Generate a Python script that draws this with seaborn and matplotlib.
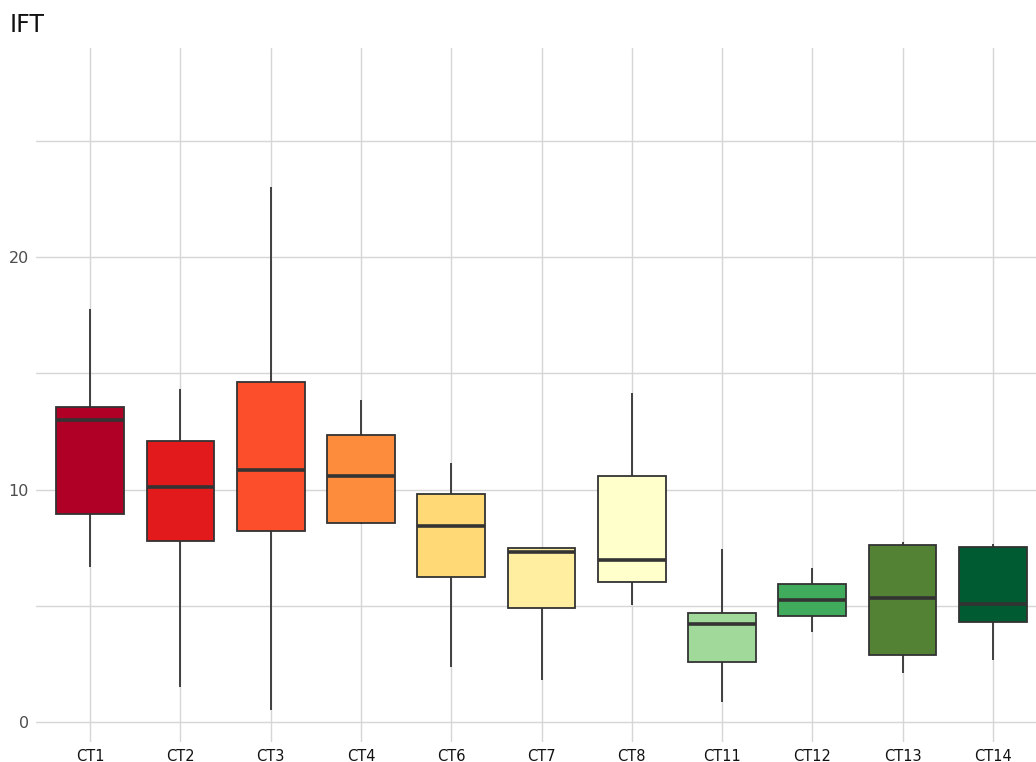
import numpy as np
import pandas as pd
import matplotlib
matplotlib.use("Agg")
import matplotlib.pyplot as plt
import seaborn as sns

# Cell types and their IFT five-number summaries (min, Q1, median, Q3, max)
cell_types = ["CT1", "CT2", "CT3", "CT4", "CT6", "CT7", "CT8", "CT11", "CT12", "CT13", "CT14"]
ift_min = [6.67, 1.50, 0.52, 8.52, 2.35, 1.81, 5.05, 0.87, 3.88, 2.11, 2.68]
ift_q1 = [8.95, 7.78, 8.23, 8.57, 6.25, 4.90, 6.01, 2.59, 4.57, 2.90, 4.29]
ift_median = [12.99, 10.11, 10.83, 10.57, 8.45, 7.30, 6.95, 4.20, 5.26, 5.35, 5.08]
ift_q3 = [13.55, 12.09, 14.62, 12.33, 9.83, 7.50, 10.57, 4.69, 5.95, 7.60, 7.53]
ift_max = [17.76, 14.32, 23.00, 13.85, 11.14, 7.50, 14.16, 7.44, 6.61, 7.73, 7.64]
colors = ["#b10026", "#e31a1c", "#fc4e2a", "#fd8d3c", "#fed976", "#ffeda0",
          "#ffffcc", "#a1d99b", "#41ab5d", "#548235", "#005a32"]

rows = []
for i, ct in enumerate(cell_types):
    for v in (ift_min[i], ift_q1[i], ift_median[i], ift_q3[i], ift_max[i]):
        rows.append({"cell_type": ct, "IFT": v})
df = pd.DataFrame(rows)

sns.set_style("white")
plt.rcParams["font.family"] = ["DejaVu Sans"]

fig = plt.figure(figsize=(10.36, 7.62), dpi=100)
W, H = 1036, 762
ax = fig.add_axes([36 / W, 1 - 742 / H, (1047 - 36) / W, (742 - 48) / H])

sns.boxplot(
    data=df, x="cell_type", y="IFT", hue="cell_type", order=cell_types,
    hue_order=cell_types, palette=dict(zip(cell_types, colors)), legend=False,
    whis=np.inf, width=0.75, saturation=1, showcaps=False,
    linecolor="#333333", linewidth=1.3,
    medianprops=dict(linewidth=2.6, color="#333333"), ax=ax, zorder=3,
)

ax.set_xlim(-0.6, 10.6)
ax.set_ylim(-0.86, 29.0)
ax.set_yticks([0, 10, 20])
ax.set_yticks([5, 15, 25], minor=True)
ax.grid(True, which="both", axis="y", color="#d6d6d6", linewidth=1.0)
ax.grid(True, which="major", axis="x", color="#d6d6d6", linewidth=1.0)
ax.set_axisbelow(True)
for s in ax.spines.values():
    s.set_visible(False)
ax.tick_params(axis="both", which="both", length=0)
ax.tick_params(axis="y", labelsize=11.5, labelcolor="#4d4d4d", pad=5)
ax.tick_params(axis="x", labelsize=10.5, labelcolor="#111111", pad=5)
ax.set_xlabel("")
ax.set_ylabel("")

fig.text(10 / W, 1 - 25 / H, "IFT", fontsize=17, va="center", ha="left", color="#111111")

fig.savefig("out.png", dpi=100, facecolor="white")
